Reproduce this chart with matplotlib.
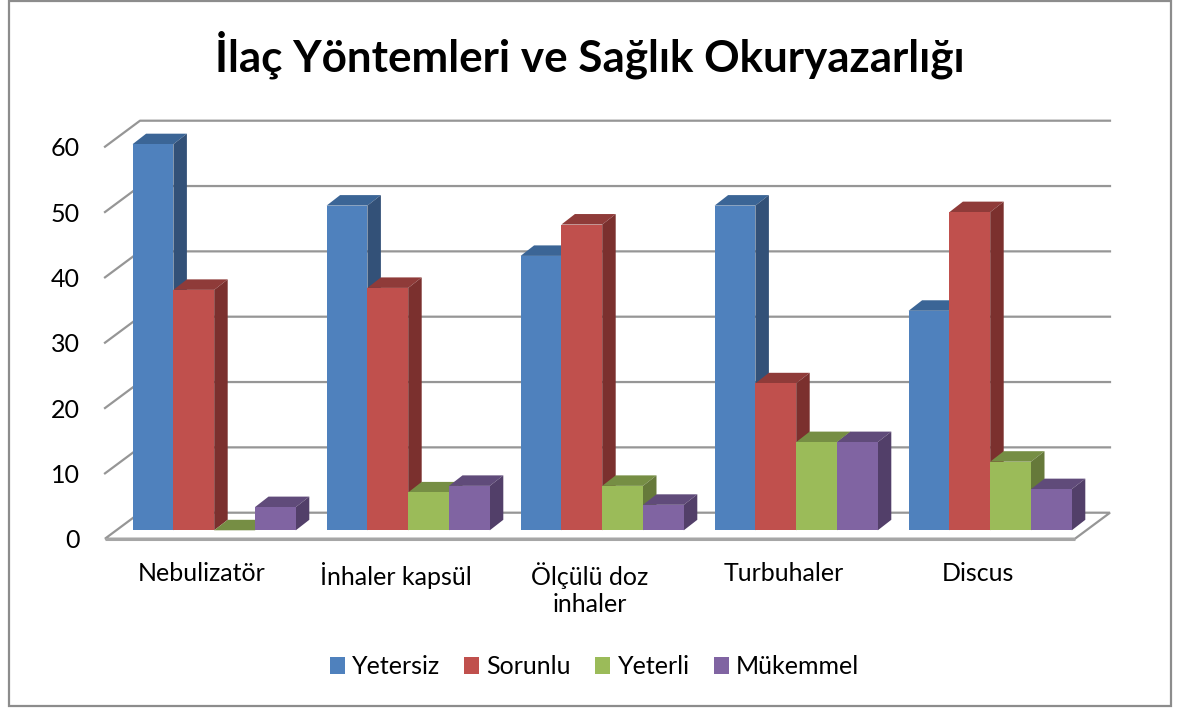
import matplotlib
matplotlib.use('Agg')
import matplotlib.pyplot as plt
from matplotlib.patches import Polygon, Rectangle
import numpy as np

plt.rcParams['font.family'] = ['Lato', 'DejaVu Sans']

title = 'İlaç Yöntemleri ve Sağlık Okuryazarlığı'
categories = ['Nebulizatör', 'İnhaler kapsül', 'Ölçülü doz\ninhaler', 'Turbuhaler', 'Discus']
yetersiz = [59.1, 49.7, 42.0, 49.7, 33.6]
sorunlu = [36.8, 37.1, 46.8, 22.5, 48.7]
yeterli = [0, 5.8, 6.8, 13.5, 10.5]
mukemmel = [3.55, 6.8, 3.9, 13.5, 6.3]
yticks = [0, 10, 20, 30, 40, 50, 60]

series = [('Yetersiz', yetersiz, '#4F81BD', '#3B6596', '#335178'),
          ('Sorunlu', sorunlu, '#C0504D', '#8F3B39', '#7B302E'),
          ('Yeterli', yeterli, '#9BBB59', '#768E44', '#66793A'),
          ('Mükemmel', mukemmel, '#8064A2', '#604B7A', '#523F69')]

W, H = 1188, 708
fig = plt.figure(figsize=(W / 100, H / 100), dpi=100)

# outer frame
fig.add_artist(Rectangle((8.5 / W, 1 - 706 / H), 1162.5 / W, 705 / H, transform=fig.transFigure,
                         fill=False, ec='#8C8C8C', lw=1.6))

# axes = front plane of the 3d box
left, right, y0, y60 = 105, 1075, 538.7, 146.7
ax = fig.add_axes([left / W, 1 - y0 / H, (right - left) / W, (y0 - y60) / H])
ax.set_xlim(0, 5)
ax.set_ylim(0, 60)
ax.patch.set_visible(False)
for s in ax.spines.values():
    s.set_visible(False)

# pixel sizes turned into data units
px_x = 5 / (right - left)
px_y = 60 / (y0 - y60)
wall_dx, wall_dy = 35 * px_x, 26 * px_y
bar_dx, bar_dy = 12.2 * px_x, 8.4 * px_y
depth_x, depth_y = 13.5 * px_x, 10.5 * px_y
bar_w = 40.8 * px_x
grid_c = '#969696'

# floor
ax.add_patch(Polygon([(0, 0), (5, 0), (5 + wall_dx, wall_dy), (wall_dx, wall_dy)], closed=True,
                     fc='white', ec=grid_c, lw=1.6, clip_on=False, zorder=1))
ax.plot([0, 5], [0, 0], color='#A6A6A6', lw=2.2, clip_on=False, zorder=1.1, solid_capstyle='butt')

# gridlines, back wall and left wall
for v in yticks[1:]:
    ax.plot([0, wall_dx, 5 + wall_dx], [v, v + wall_dy, v + wall_dy], color=grid_c, lw=1.6,
            clip_on=False, zorder=1)

xpos = np.arange(len(categories))

z = 2
for k, (name, vals, c, c_top, c_side) in enumerate(series):
    xs = xpos + 0.5 - 2 * bar_w + k * bar_w + bar_dx
    for x, v in zip(xs, vals):
        y = v + bar_dy
        ax.add_patch(Polygon([(x, y), (x + bar_w, y), (x + bar_w + depth_x, y + depth_y), (x + depth_x, y + depth_y)],
                             closed=True, fc=c_top, ec='none', clip_on=False, zorder=z))
        ax.add_patch(Polygon([(x + bar_w, bar_dy), (x + bar_w + depth_x, bar_dy + depth_y),
                              (x + bar_w + depth_x, y + depth_y), (x + bar_w, y)],
                             closed=True, fc=c_side, ec='none', clip_on=False, zorder=z))
    ax.bar(xs, vals, bar_w, bottom=bar_dy, align='edge', color=c, label=name, clip_on=False, zorder=z + 0.5)
    z += 1

ax.set_xticks(xpos + 0.5)
ax.set_xticklabels(categories, fontsize=18, linespacing=1.2)
ax.set_yticks(yticks)
ax.tick_params(axis='x', length=0, pad=17, labelcolor='black')
ax.tick_params(axis='y', length=0, pad=18, labelsize=18, labelcolor='black')

fig.text(590 / W, 1 - 55 / H, title, ha='center', va='center', fontsize=31.7, fontweight='bold')

h, l = ax.get_legend_handles_labels()
fig.legend(h, l, loc='center', bbox_to_anchor=(594.5 / W, 1 - 667 / H), ncol=4, frameon=False, fontsize=18,
           handlelength=0.6, handleheight=0.65, handletextpad=0.28, columnspacing=0.98)

fig.savefig('out.png', dpi=100)
